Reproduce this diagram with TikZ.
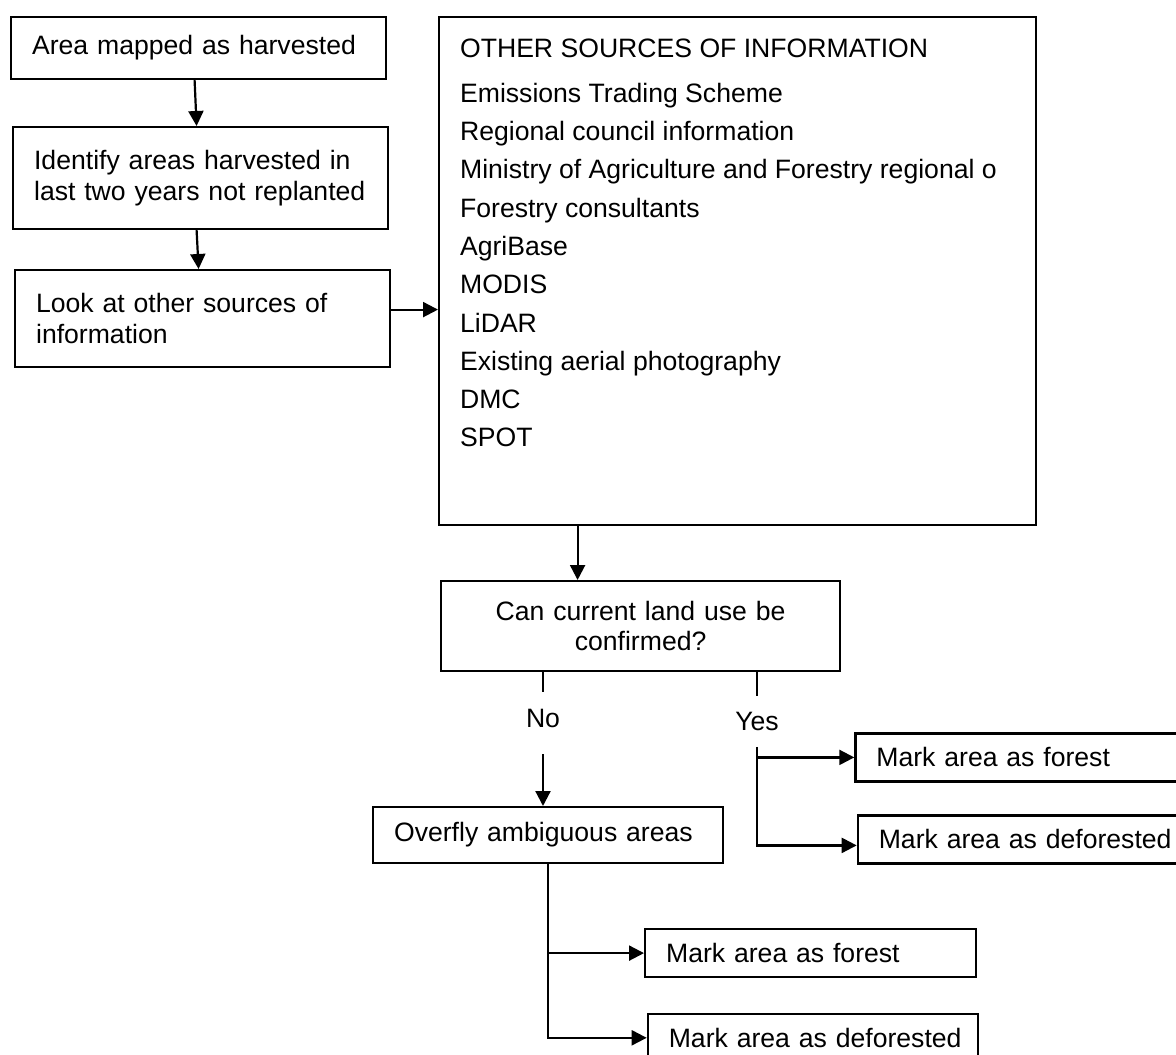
\documentclass[tikz,border=0pt]{standalone}
\usepackage{fontspec}
\setmainfont{Liberation Sans}
\usetikzlibrary{arrows.meta,positioning}

\tikzset{
  box/.style={draw,line width=2.2pt,anchor=north west,inner xsep=21pt,inner ysep=0pt,
    align=left,font=\fontsize{26.6}{30.5}\selectfont,
    execute at begin node={\hyphenpenalty=10000\exhyphenpenalty=10000\hbadness=10000\hfuzz=20pt}},
  lbl/.style={inner sep=0pt,text height=19pt,text depth=0pt,font=\fontsize{26.6}{30.5}\selectfont}
}

\begin{document}
\begin{tikzpicture}[x=1pt,y=-1pt,>={Triangle[length=15pt,width=15pt]},line width=2.2pt]
  \useasboundingbox (0,0) rectangle (1176,1055);
  \clip (0,0) rectangle (1176,1055);

  % left column
  \node[box,text width=333pt,minimum height=62pt] (mapped) at (10,16) {Area mapped as harvested};
  \node[box,text width=333pt,minimum height=102pt] (identify) at (12,126) {Identify areas harvested in\\last two years not replanted};
  \node[box,text width=333pt,minimum height=97pt] (lookat) at (14,269) {Look at other sources of\\information};

  % list of sources
  \node[box,minimum width=597pt,minimum height=508pt] (sources) at (438,16) {};
  \node[anchor=north west,inner sep=0pt,align=left,font=\fontsize{26.6}{38.3}\selectfont] (srclist) at (459,37.6)
    {OTHER SOURCES OF INFORMATION\\[6.7pt]
     Emissions Trading Scheme\\
     Regional council information\\
     Ministry of Agriculture and Forestry regional o\\
     Forestry consultants\\
     AgriBase\\
     MODIS\\
     LiDAR\\
     Existing aerial photography\\
     DMC\\
     SPOT};

  % decision and outcomes
  \node[box,align=center,text width=357pt,minimum height=90pt] (confirm) at (440,580) {Can current land use be\\confirmed?};
  \node[lbl,minimum height=60pt,text depth=10pt] (no) at (543,723) {No};
  \node[lbl,minimum height=48.7pt] (yes) at (757,721.3) {Yes};
  \node[box,text width=308pt,minimum height=56pt] (overfly) at (372,806) {Overfly ambiguous areas};
  \node[box,text width=358pt,minimum height=48pt] (yesforest) at (854.3,732.3) {Mark area as forest};
  \node[box,text width=358pt,minimum height=48pt] (yesdefor) at (856.7,814.3) {Mark area as deforested};
  \node[box,text width=289pt,minimum height=48pt] (flyforest) at (644,928) {Mark area as forest};
  \node[box,text width=288.3pt,minimum height=48pt] (flydefor) at (646.7,1012.7) {\mbox{Mark area as deforested}};

  \draw[->] ([xshift=-4pt]mapped.south) -- ([xshift=-4pt]identify.north);
  \draw[->] ([xshift=-4pt]identify.south) -- ([xshift=-4pt]lookat.north);
  \draw[->] ([yshift=9pt]lookat.east) -- ([yshift=9pt]sources.west |- lookat.east);
  \draw[->] ([xshift=-63pt]confirm.north |- sources.south) -- ([xshift=-63pt]confirm.north);

  \draw (no.north |- confirm.south) -- (no.north);
  \draw[->] (no.south) -- (no.south |- overfly.north);
  \draw (yes.north |- confirm.south) -- (yes.north);
  \draw[->] (yes.south |- yesforest.west) -- (yesforest.west);
  \draw[->] (yes.south) |- ([yshift=-6pt]yesdefor.west);

  \draw[->] (overfly.south |- flyforest.west) -- (flyforest.west);
  \draw[->] (overfly.south) |- (flydefor.west);
\end{tikzpicture}
\end{document}
